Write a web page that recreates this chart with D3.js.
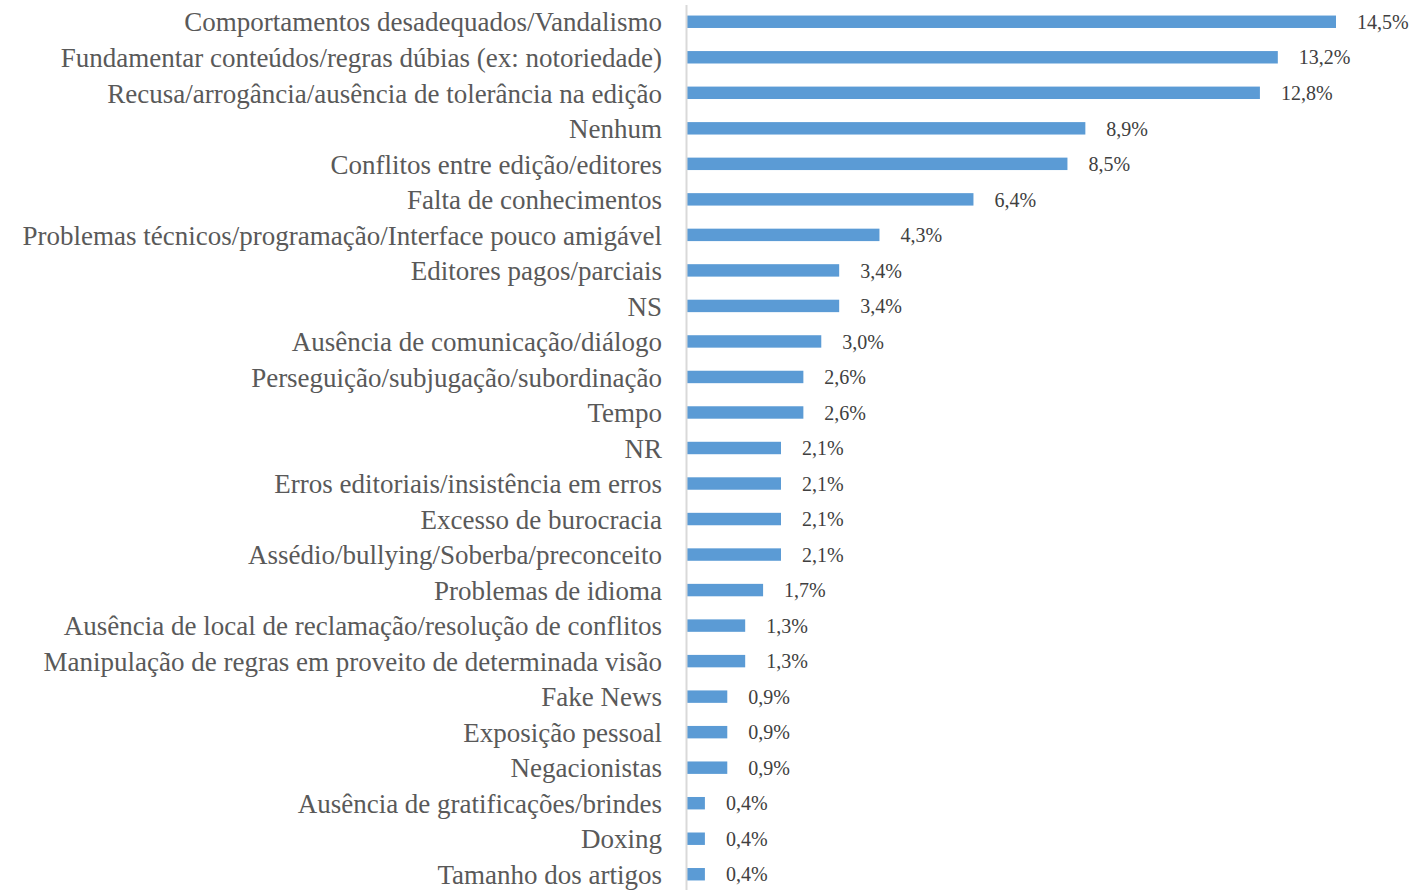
<!DOCTYPE html>
<html>
<head>
<meta charset="utf-8">
<script src="https://cdn.jsdelivr.net/npm/d3@7"></script>
<style>
  html, body { margin: 0; padding: 0; background: #fff; }
  svg { display: block; }
</style>
</head>
<body>
<div id="chart"></div>
<script>
// categories, top to bottom
const categories = [
  "Comportamentos desadequados/Vandalismo",
  "Fundamentar conteúdos/regras dúbias (ex: notoriedade)",
  "Recusa/arrogância/ausência de tolerância na edição",
  "Nenhum",
  "Conflitos entre edição/editores",
  "Falta de conhecimentos",
  "Problemas técnicos/programação/Interface pouco amigável",
  "Editores pagos/parciais",
  "NS",
  "Ausência de comunicação/diálogo",
  "Perseguição/subjugação/subordinação",
  "Tempo",
  "NR",
  "Erros editoriais/insistência em erros",
  "Excesso de burocracia",
  "Assédio/bullying/Soberba/preconceito",
  "Problemas de idioma",
  "Ausência de local de reclamação/resolução de conflitos",
  "Manipulação de regras em proveito de determinada visão",
  "Fake News",
  "Exposição pessoal",
  "Negacionistas",
  "Ausência de gratificações/brindes",
  "Doxing",
  "Tamanho dos artigos"
];

// percentages
const values = [14.5, 13.2, 12.8, 8.9, 8.5, 6.4, 4.3, 3.4, 3.4, 3.0, 2.6, 2.6,
  2.1, 2.1, 2.1, 2.1, 1.7, 1.3, 1.3, 0.9, 0.9, 0.9, 0.4, 0.4, 0.4];

const width = 1412, height = 890;
const axisX = 686;
const serif = "'Liberation Serif', 'Times New Roman', serif";

const svg = d3.select("#chart").append("svg")
  .attr("width", width)
  .attr("height", height);

const x = d3.scaleLinear()
  .domain([0, 14.5])
  .range([axisX + 1, 1336]);

const y = d3.scaleBand()
  .domain(categories)
  .range([4, 892])
  .paddingInner(0.65)
  .paddingOuter(0.325);

// bars
svg.append("g")
  .selectAll("rect")
  .data(values)
  .join("rect")
  .attr("x", x(0))
  .attr("y", (d, i) => y(categories[i]))
  .attr("width", d => x(d) - x(0))
  .attr("height", y.bandwidth())
  .attr("fill", "#5b9bd5");

// value labels
svg.append("g")
  .selectAll("text")
  .data(values)
  .join("text")
  .attr("x", d => x(d) + 21)
  .attr("y", (d, i) => y(categories[i]) + y.bandwidth() / 2)
  .attr("dy", "0.36em")
  .style("font-family", serif)
  .style("font-size", "20px")
  .style("fill", "#404040")
  .text(d => d.toFixed(1).replace(".", ",") + "%");

// category axis
const axis = svg.append("g")
  .attr("transform", `translate(${axisX},0)`)
  .call(d3.axisLeft(y).tickSize(0).tickPadding(24));

axis.select(".domain")
  .attr("d", `M0.5,5V${height}`)
  .attr("stroke", "#d9d9d9")
  .attr("stroke-width", 2);

axis.selectAll("text")
  .attr("dy", "0.36em")
  .style("font-family", serif)
  .style("font-size", "27px")
  .style("fill", "#595959");
</script>
</body>
</html>
